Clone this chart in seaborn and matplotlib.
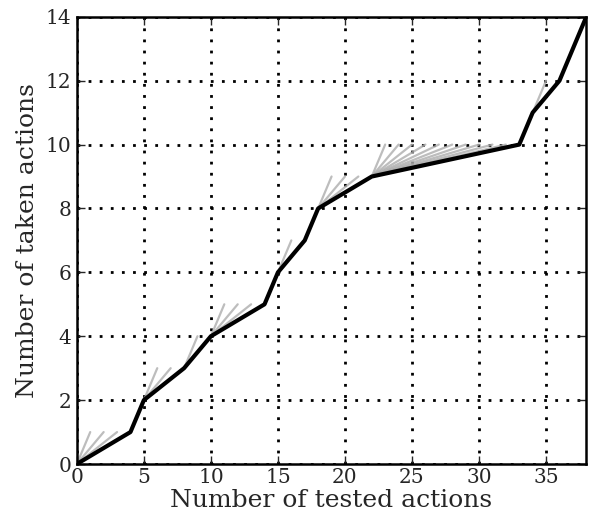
import pandas as pd
import matplotlib
matplotlib.use("Agg")
import matplotlib.pyplot as plt
import seaborn as sns

# === Data ===
# cumulative tested actions vs. taken actions (black path)
tested = [0, 4, 5, 8, 10, 14, 15, 17, 18, 22, 33, 34, 36, 37, 38]
taken = [0, 1, 2, 3, 4, 5, 6, 7, 8, 9, 10, 11, 12, 13, 14]

# tested-but-rejected actions branching off each step (gray fans)
rejected = [
    [1, 2, 3],
    [],
    [6, 7],
    [9],
    [11, 12, 13],
    [],
    [16],
    [],
    [19, 20, 21],
    [23, 24, 25, 26, 27, 28, 29, 30, 31, 32],
    [],
    [35],
    [],
    [],
]

# === Build gray segments ===
rows = []
seg = 0
for i, xs in enumerate(rejected):
    for xr in xs:
        rows.append({"seg": seg, "x": tested[i], "y": taken[i]})
        rows.append({"seg": seg, "x": xr, "y": taken[i] + 1})
        seg += 1
fan = pd.DataFrame(rows)
path = pd.DataFrame({"x": tested, "y": taken})

# === Plot ===
sns.set_style("ticks")
plt.rcParams["font.family"] = ["DejaVu Serif"]

fig = plt.figure(figsize=(5.91, 5.17), dpi=100)
ax = fig.add_axes([0.130, 0.1025, 0.862, 0.865])

sns.lineplot(data=fan, x="x", y="y", units="seg", estimator=None,
             color="0.68", lw=1.6, alpha=0.8, ax=ax)
sns.lineplot(data=path, x="x", y="y", estimator=None, sort=False,
             color="black", lw=3, ax=ax)

ax.set_xlim(0, 38)
ax.set_ylim(0, 14)
ax.set_xticks(range(0, 36, 5))
ax.set_yticks(range(0, 15, 2))
ax.grid(True, color="black", linestyle=(0, (1, 3)), lw=2)
ax.tick_params(direction="in", top=True, right=True, labelsize=14.5,
               length=6, width=1, pad=3)
ax.tick_params(axis="y", pad=4)
for s in ax.spines.values():
    s.set_linewidth(1.8)
    s.set_color("black")
ax.set_xlabel("Number of tested actions", fontsize=18, labelpad=1)
ax.set_ylabel("Number of taken actions", fontsize=18, labelpad=5)

fig.savefig("out.png", dpi=100)
